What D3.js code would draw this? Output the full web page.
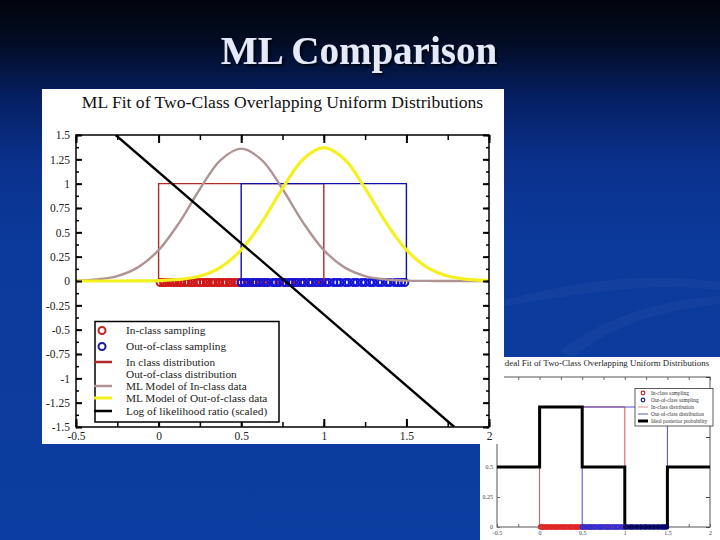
<!DOCTYPE html>
<html><head><meta charset="utf-8">
<script src="https://cdn.jsdelivr.net/npm/d3@7"></script>
<style>html,body{margin:0;padding:0;background:#0b3a9c;overflow:hidden}svg{display:block}</style>
</head><body><svg id="c" width="720" height="540"></svg>
<script>
// ---------------- data ----------------
const slideTitle = "ML Comparison";
const mainTitle = "ML Fit of Two-Class Overlapping Uniform Distributions";
const insetTitle = "Ideal Fit of Two-Class Overlapping Uniform Distributions";

const xTickValues = [-0.5, 0, 0.5, 1, 1.5, 2];
const xTickLabels = ["-0.5", "0", "0.5", "1", "1.5", "2"];
const yTickValues = [1.5, 1.25, 1, 0.75, 0.5, 0.25, 0, -0.25, -0.5, -0.75, -1, -1.25, -1.5];
const yTickLabels = ["1.5", "1.25", "1", "0.75", "0.5", "0.25", "0", "-0.25", "-0.5", "-0.75", "-1", "-1.25", "-1.5"];
const insetYTickValues = [0, 0.25, 0.5, 0.75, 1, 1.25];
const insetYTickLabels = ["0", "0.25", "0.5", "0.75", "1", "1.25"];

// ML Gaussian fits
const curveX = [-0.5, -0.375, -0.25, -0.125, 0, 0.125, 0.25, 0.375, 0.5, 0.625, 0.75, 0.875, 1, 1.125, 1.25, 1.375, 1.5, 1.625, 1.75, 1.875, 2];
const inClassFit = [0.004, 0.016, 0.051, 0.14, 0.317, 0.6, 0.945, 1.242, 1.36, 1.242, 0.945, 0.6, 0.317, 0.14, 0.051, 0.016, 0.004, 0.001, 0, 0, 0];
const outClassFit = [0, 0, 0, 0.001, 0.004, 0.016, 0.051, 0.141, 0.319, 0.604, 0.952, 1.251, 1.37, 1.251, 0.952, 0.604, 0.319, 0.141, 0.051, 0.016, 0.004];

// log likelihood ratio (scaled) — straight line end points
const llrX = [-0.26, 1.79];
const llrY = [1.5, -1.5];

// uniform distributions (outline)
const inDistX = [0, 0, 1, 1];
const inDistY = [0, 1, 1, 0];
const outDistX = [0.5, 0.5, 1.5, 1.5];
const outDistY = [0, 1, 1, 0];

// samples (all at y = 0)
const inClassSamples = [0.01, 0.03, 0.04, 0.06, 0.08, 0.09, 0.11, 0.13, 0.14, 0.16, 0.18, 0.2, 0.21, 0.23, 0.25, 0.27, 0.29, 0.3, 0.32, 0.34, 0.36, 0.37, 0.39, 0.41, 0.43, 0.44, 0.46, 0.48, 0.5, 0.52, 0.55, 0.58, 0.61, 0.63, 0.66, 0.7, 0.73, 0.77, 0.8, 0.84, 0.88, 0.91, 0.95, 0.99];
const outClassSamples = [0.5, 0.52, 0.54, 0.57, 0.59, 0.61, 0.64, 0.66, 0.69, 0.71, 0.73, 0.76, 0.79, 0.81, 0.83, 0.86, 0.88, 0.91, 0.93, 0.96, 0.98, 1.01, 1.03, 1.06, 1.08, 1.1, 1.13, 1.15, 1.18, 1.2, 1.23, 1.25, 1.28, 1.3, 1.33, 1.35, 1.38, 1.4, 1.43, 1.45, 1.47, 1.49];

// ideal posterior probability (step)
const posteriorX = [-0.5, 0, 0.5, 1, 1.5, 2];
const posteriorY = [0.5, 1, 0.5, 0, 0.5, 0.5];

const mainLegend = ["In-class sampling", "Out-of-class sampling", "In class distribution", "Out-of-class distribution", "ML Model of In-class data", "ML Model of Out-of-class data", "Log of likelihood ratio (scaled)"];
const insetLegend = ["In-class sampling", "Out-of-class sampling", "In-class distribution", "Out-of-class distribution", "Ideal posterior probability"];

// ---------------- drawing ----------------
const svg = d3.select("#c");
const SERIF = "'Liberation Serif','Times New Roman',serif";
const defs = svg.append("defs");

const bg = defs.append("linearGradient").attr("id", "bg").attr("x1", 0).attr("y1", 0).attr("x2", 0).attr("y2", 1);
[[0, "#01040c"], [0.08, "#020c24"], [0.18, "#051f62"], [0.3, "#0a318c"], [0.45, "#0b3a9c"], [1, "#0c3da0"]]
  .forEach(([o, c]) => bg.append("stop").attr("offset", o).attr("stop-color", c));
svg.append("rect").attr("width", 720).attr("height", 540).attr("fill", "url(#bg)");

const shadow = defs.append("filter").attr("id", "shadow").attr("x", "-10%").attr("y", "-20%").attr("width", "130%").attr("height", "150%");
shadow.append("feDropShadow").attr("dx", 2).attr("dy", 2).attr("stdDeviation", 0.8).attr("flood-color", "#000").attr("flood-opacity", 0.7);

// faint decorative swooshes
svg.append("path").attr("d", "M505,300 C580,280 650,272 720,282 L720,290 C650,282 590,292 505,306 Z")
  .attr("fill", "#ffffff").attr("opacity", 0.035);
svg.append("path").attr("d", "M560,352 C600,318 660,300 720,296 L720,304 C660,310 610,326 575,356 Z")
  .attr("fill", "#ffffff").attr("opacity", 0.035);

// slide title
svg.append("text").attr("x", 359).attr("y", 64).attr("text-anchor", "middle")
  .attr("font-family", SERIF).attr("font-weight", "bold").attr("font-size", 39)
  .attr("fill", "#e6eaf8").attr("filter", "url(#shadow)").text(slideTitle);

// =============== inset chart (drawn first, partly covered) ===============
const inset = svg.append("g");
defs.append("clipPath").attr("id", "insetClip").append("rect").attr("x", 480).attr("y", 357).attr("width", 240).attr("height", 183);
const ig = inset.append("g").attr("clip-path", "url(#insetClip)");
ig.append("rect").attr("x", 480).attr("y", 357).attr("width", 240).attr("height", 183).attr("fill", "#ffffff");

const xI = d3.scaleLinear().domain([-0.5, 2]).range([497, 710]);
const yI = d3.scaleLinear().domain([0, 1.25]).range([527, 377]);
const hiddenAbove = 445; // main panel covers the inset above this y (left of x=504)

ig.append("text").attr("x", 605.5).attr("y", 365.5).attr("text-anchor", "middle")
  .attr("font-family", SERIF).attr("font-size", 8.9).attr("fill", "#222").text(insetTitle);

ig.append("rect").attr("x", xI(-0.5)).attr("y", yI(1.25)).attr("width", xI(2) - xI(-0.5)).attr("height", yI(0) - yI(1.25))
  .attr("fill", "none").attr("stroke", "#555").attr("stroke-width", 1);

const insetMinorX = d3.range(-0.5, 2.01, 0.25);
ig.append("g").attr("transform", `translate(0,${yI(0)})`)
  .call(d3.axisBottom(xI).tickValues(insetMinorX).tickSize(-3).tickFormat(""))
  .call(g => g.select(".domain").remove()).selectAll("line").attr("stroke", "#666");
ig.append("g").attr("transform", `translate(0,${yI(1.25)})`)
  .call(d3.axisTop(xI).tickValues(insetMinorX).tickSize(-3).tickFormat(""))
  .call(g => g.select(".domain").remove()).selectAll("line").attr("stroke", "#666");
ig.append("g").attr("transform", `translate(0,${yI(0)})`)
  .call(d3.axisBottom(xI).tickValues(xTickValues).tickSize(0).tickPadding(4).tickFormat((d, i) => xTickLabels[i]))
  .call(g => g.select(".domain").remove())
  .selectAll("text").attr("font-family", SERIF).attr("font-size", 6).attr("fill", "#444");
ig.append("g").attr("transform", `translate(${xI(-0.5)},0)`)
  .call(d3.axisLeft(yI).tickValues(insetYTickValues).tickSize(-3).tickPadding(4)
    .tickFormat((d, i) => yI(d) > hiddenAbove ? insetYTickLabels[i] : ""))
  .call(g => g.select(".domain").remove())
  .call(g => g.selectAll("line").attr("stroke", "#666"))
  .selectAll("text").attr("font-family", SERIF).attr("font-size", 6).attr("fill", "#444");
ig.append("g").attr("transform", `translate(${xI(2)},0)`)
  .call(d3.axisRight(yI).tickValues(insetYTickValues).tickSize(-4).tickFormat(""))
  .call(g => g.select(".domain").remove()).selectAll("line").attr("stroke", "#444");

const lineI = d3.line().x(d => xI(d[0])).y(d => yI(d[1]));
ig.append("path").attr("d", lineI(d3.zip(inDistX, inDistY))).attr("fill", "none").attr("stroke", "#dc5050").attr("stroke-width", 1);
ig.append("path").attr("d", lineI(d3.zip(outDistX, outDistY))).attr("fill", "none").attr("stroke", "#4a4ac8").attr("stroke-width", 1);
ig.append("path").attr("d", d3.line().curve(d3.curveStepAfter).x(d => xI(d[0])).y(d => yI(d[1]))(d3.zip(posteriorX, posteriorY)))
  .attr("fill", "none").attr("stroke", "#000").attr("stroke-width", 3);

ig.selectAll("circle.ri").data(inClassSamples).join("circle").attr("class", "ri")
  .attr("cx", d => xI(d)).attr("cy", yI(0)).attr("r", 2).attr("fill", "none").attr("stroke", "#e02424").attr("stroke-width", 1.3);
ig.selectAll("circle.bi").data(outClassSamples).join("circle").attr("class", "bi")
  .attr("cx", d => xI(d)).attr("cy", yI(0)).attr("r", 2).attr("fill", "none").attr("stroke", d => d < 1 ? "#3030d8" : "#0a0a70").attr("stroke-width", 1.3);

// inset legend
const ilg = ig.append("g");
ilg.append("rect").attr("x", 635).attr("y", 388.5).attr("width", 78).attr("height", 37.5).attr("fill", "#fff").attr("stroke", "#333").attr("stroke-width", 0.8);
const iRows = [393, 400, 407, 414, 421];
insetLegend.forEach((t, i) => {
  const y = iRows[i];
  if (i === 0) ilg.append("circle").attr("cx", 643).attr("cy", y).attr("r", 1.8).attr("fill", "none").attr("stroke", "#d02020").attr("stroke-width", 1.2);
  if (i === 1) ilg.append("circle").attr("cx", 643).attr("cy", y).attr("r", 1.8).attr("fill", "none").attr("stroke", "#1a1aa0").attr("stroke-width", 1.2);
  if (i === 2) ilg.append("line").attr("x1", 638).attr("x2", 648).attr("y1", y).attr("y2", y).attr("stroke", "#e07070").attr("stroke-width", 0.8);
  if (i === 3) ilg.append("line").attr("x1", 638).attr("x2", 648).attr("y1", y).attr("y2", y).attr("stroke", "#3030a0").attr("stroke-width", 0.8);
  if (i === 4) ilg.append("line").attr("x1", 638).attr("x2", 648).attr("y1", y).attr("y2", y).attr("stroke", "#000").attr("stroke-width", 3);
  ilg.append("text").attr("x", 651).attr("y", y + 2).attr("font-family", SERIF).attr("font-size", 5.4).attr("fill", "#333").text(t);
});

// =============== main chart ===============
const main = svg.append("g");
main.append("rect").attr("x", 42).attr("y", 89).attr("width", 462).attr("height", 355).attr("fill", "#ffffff");

const xM = d3.scaleLinear().domain([-0.5, 2]).range([76, 489]);
const yM = d3.scaleLinear().domain([-1.5, 1.5]).range([427, 135]);

main.append("text").attr("x", 282.5).attr("y", 108).attr("text-anchor", "middle")
  .attr("font-family", SERIF).attr("font-size", 17.6).attr("fill", "#111").text(mainTitle);

defs.append("clipPath").attr("id", "plotClip").append("rect")
  .attr("x", xM(-0.5)).attr("y", yM(1.5)).attr("width", xM(2) - xM(-0.5)).attr("height", yM(-1.5) - yM(1.5));
const plot = main.append("g").attr("clip-path", "url(#plotClip)");

// samples
plot.selectAll("ellipse.r").data(inClassSamples).join("ellipse").attr("class", "r")
  .attr("cx", d => xM(d)).attr("cy", yM(0) + 1.5).attr("rx", 3.6).attr("ry", 3.4)
  .attr("fill", "none").attr("stroke", "#d01818").attr("stroke-width", 2);
plot.selectAll("ellipse.b").data(outClassSamples).join("ellipse").attr("class", "b")
  .attr("cx", d => xM(d)).attr("cy", yM(0) + 1.5).attr("rx", 3.6).attr("ry", 3.4)
  .attr("fill", "none").attr("stroke", "#1414d8").attr("stroke-width", 2);

const lineM = d3.line().x(d => xM(d[0])).y(d => yM(d[1]));
plot.append("path").attr("d", lineM(d3.zip(inDistX, inDistY))).attr("fill", "none").attr("stroke", "#b02828").attr("stroke-width", 1.4);
plot.append("path").attr("d", lineM(d3.zip(outDistX, outDistY))).attr("fill", "none").attr("stroke", "#1010a8").attr("stroke-width", 1.4);

const curveM = d3.line().curve(d3.curveCatmullRom).x(d => xM(d[0])).y(d => yM(d[1]));
plot.append("path").attr("d", curveM(d3.zip(curveX, inClassFit))).attr("fill", "none").attr("stroke", "#b09494").attr("stroke-width", 2.4);
plot.append("path").attr("d", curveM(d3.zip(curveX, outClassFit))).attr("fill", "none").attr("stroke", "#f5f020").attr("stroke-width", 3.2);
plot.append("path").attr("d", lineM(d3.zip(llrX, llrY))).attr("fill", "none").attr("stroke", "#000").attr("stroke-width", 2.4);

// axes
const minorX = d3.range(-0.5, 2.01, 0.25);
const minorY = d3.range(-1.5, 1.51, 0.125);
function styleTicks(g, w) { g.select(".domain").remove(); g.selectAll("line").attr("stroke", "#000").attr("stroke-width", w); }

main.append("g").attr("transform", `translate(0,${yM(-1.5)})`)
  .call(d3.axisBottom(xM).tickValues(minorX).tickSize(-5).tickFormat("")).call(g => styleTicks(g, 1.5));
main.append("g").attr("transform", `translate(0,${yM(-1.5)})`)
  .call(d3.axisBottom(xM).tickValues(xTickValues).tickSize(-8).tickPadding(5).tickFormat((d, i) => xTickLabels[i]))
  .call(g => styleTicks(g, 2))
  .selectAll("text").attr("font-family", SERIF).attr("font-size", 11.5).attr("fill", "#222");
main.append("g").attr("transform", `translate(0,${yM(1.5)})`)
  .call(d3.axisTop(xM).tickValues(minorX).tickSize(-5).tickFormat("")).call(g => styleTicks(g, 1.5));
main.append("g").attr("transform", `translate(0,${yM(1.5)})`)
  .call(d3.axisTop(xM).tickValues(xTickValues).tickSize(-8).tickFormat("")).call(g => styleTicks(g, 2));

main.append("g").attr("transform", `translate(${xM(-0.5)},0)`)
  .call(d3.axisLeft(yM).tickValues(minorY).tickSize(-3).tickFormat("")).call(g => styleTicks(g, 1.5));
main.append("g").attr("transform", `translate(${xM(-0.5)},0)`)
  .call(d3.axisLeft(yM).tickValues(yTickValues).tickSize(-6).tickPadding(6).tickFormat((d, i) => yTickLabels[i]))
  .call(g => styleTicks(g, 2))
  .selectAll("text").attr("font-family", SERIF).attr("font-size", 11.5).attr("fill", "#222");
main.append("g").attr("transform", `translate(${xM(2)},0)`)
  .call(d3.axisRight(yM).tickValues(minorY).tickSize(-3).tickFormat("")).call(g => styleTicks(g, 1.5));
main.append("g").attr("transform", `translate(${xM(2)},0)`)
  .call(d3.axisRight(yM).tickValues(yTickValues).tickSize(-6).tickFormat("")).call(g => styleTicks(g, 2));

main.append("rect").attr("x", xM(-0.5)).attr("y", yM(1.5)).attr("width", xM(2) - xM(-0.5)).attr("height", yM(-1.5) - yM(1.5))
  .attr("fill", "none").attr("stroke", "#000").attr("stroke-width", 1.5);

// main legend
const lg = main.append("g");
lg.append("rect").attr("x", 95).attr("y", 321.5).attr("width", 184).attr("height", 100.5)
  .attr("fill", "#fff").attr("stroke", "#000").attr("stroke-width", 1.5);
const mRows = [330.5, 346.5, 362, 374, 386, 398, 411];
mainLegend.forEach((t, i) => {
  const y = mRows[i];
  if (i === 0) lg.append("circle").attr("cx", 102).attr("cy", y).attr("r", 3.5).attr("fill", "none").attr("stroke", "#c82020").attr("stroke-width", 2);
  if (i === 1) lg.append("circle").attr("cx", 102).attr("cy", y).attr("r", 3.5).attr("fill", "none").attr("stroke", "#1a1aa0").attr("stroke-width", 2);
  if (i === 2) lg.append("line").attr("x1", 94).attr("x2", 112).attr("y1", y).attr("y2", y).attr("stroke", "#b02828").attr("stroke-width", 2.5);
  if (i === 4) lg.append("line").attr("x1", 94).attr("x2", 112).attr("y1", y).attr("y2", y).attr("stroke", "#b09494").attr("stroke-width", 2.5);
  if (i === 5) lg.append("line").attr("x1", 94).attr("x2", 112).attr("y1", y).attr("y2", y).attr("stroke", "#f5f020").attr("stroke-width", 3);
  if (i === 6) lg.append("line").attr("x1", 94).attr("x2", 112).attr("y1", y).attr("y2", y).attr("stroke", "#000").attr("stroke-width", 2.5);
  lg.append("text").attr("x", 126).attr("y", y + 3.5).attr("font-family", SERIF).attr("font-size", 11.3).attr("fill", "#222").text(t);
});
</script></body></html>
